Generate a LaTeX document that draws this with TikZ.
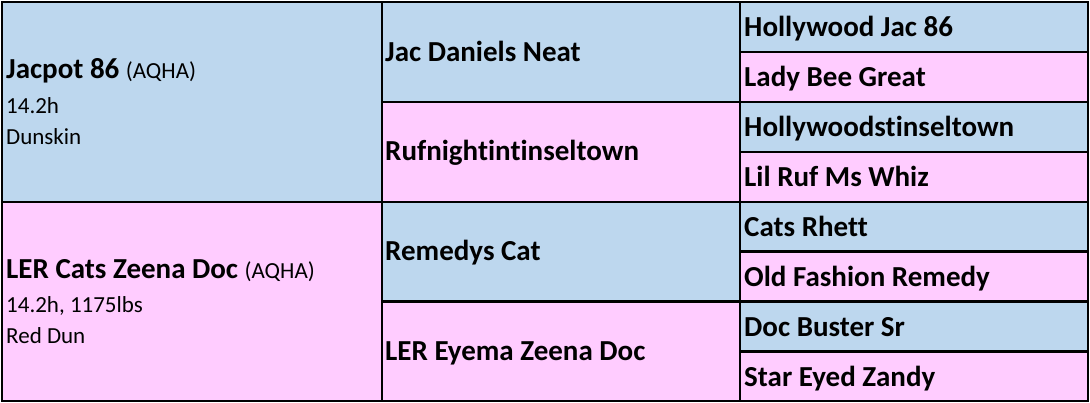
\documentclass[tikz,border=0pt]{standalone}
\usepackage{fontspec}
\setmainfont[Ligatures=NoCommon]{Carlito}
\definecolor{sireblue}{RGB}{189,215,238}
\definecolor{dampink}{RGB}{255,204,255}
\begin{document}
\begin{tikzpicture}[x=1pt,y=-1pt,
  cell/.style={draw=black, line width=2.4pt, inner sep=0pt, anchor=north west},
  sire/.style={cell, fill=sireblue},
  dam/.style={cell, fill=dampink},
  g1/.style={minimum width=380pt, minimum height=199.5pt},
  g2/.style={minimum width=358pt, minimum height=99.75pt},
  g3/.style={minimum width=348pt, minimum height=49.875pt},
  nm/.style={anchor=base west, inner sep=0pt, font=\fontsize{29}{34}\selectfont\bfseries},
  info/.style={anchor=base west, inner sep=0pt, font=\fontsize{23}{28}\selectfont}]
\useasboundingbox[fill=white] (0,0) rectangle (1090,402);
% generation 1
\node[sire,g1] (s) at (1,1) {};
\node[dam,g1] (d) at (1,200.5) {};
% generation 2
\node[sire,g2] (ss) at (381,1) {};
\node[dam,g2] (sd) at (381,100.75) {};
\node[sire,g2] (ds) at (381,200.5) {};
\node[dam,g2] (dd) at (381,300.25) {};
% generation 3
\node[sire,g3] (sss) at (739,1) {};
\node[dam,g3] (ssd) at (739,50.875) {};
\node[sire,g3] (sds) at (739,100.75) {};
\node[dam,g3] (sdd) at (739,150.625) {};
\node[sire,g3] (dss) at (739,200.5) {};
\node[dam,g3] (dsd) at (739,250.375) {};
\node[sire,g3] (dds) at (739,300.25) {};
\node[dam,g3] (ddd) at (739,350.125) {};
% texts
\node[nm] (t1) at (6,78) {Jacpot 86 {\mdseries\fontsize{23}{28}\selectfont (AQHA)}};
\node[info] (t1a) at (6,113) {14.2h};
\node[info] (t1b) at (6,144) {Dunskin};
\node[nm] (t2) at (6,278) {LER Cats Zeena Doc {\mdseries\fontsize{23}{28}\selectfont (AQHA)}};
\node[info] (t2a) at (6,312) {14.2h, 1175lbs};
\node[info] (t2b) at (6,343) {Red Dun};
\node[nm] (t3) at (385,61) {Jac Daniels Neat};
\node[nm] (t4) at (385,160.5) {Rufnightintinseltown};
\node[nm] (t5) at (385,260.5) {Remedys Cat};
\node[nm] (t6) at (385,360.5) {LER Eyema Zeena Doc};
\node[nm] (t7) at (744,36.5) {Hollywood Jac 86};
\node[nm] (t8) at (744,86.5) {Lady Bee Great};
\node[nm] (t9) at (744,136.5) {Hollywoodstinseltown};
\node[nm] (t10) at (744,186.5) {Lil Ruf Ms Whiz};
\node[nm] (t11) at (744,236.5) {Cats Rhett};
\node[nm] (t12) at (744,286.5) {Old Fashion Remedy};
\node[nm] (t13) at (744,336.5) {Doc Buster Sr};
\node[nm] (t14) at (744,386.5) {Star Eyed Zandy};
\end{tikzpicture}
\end{document}
